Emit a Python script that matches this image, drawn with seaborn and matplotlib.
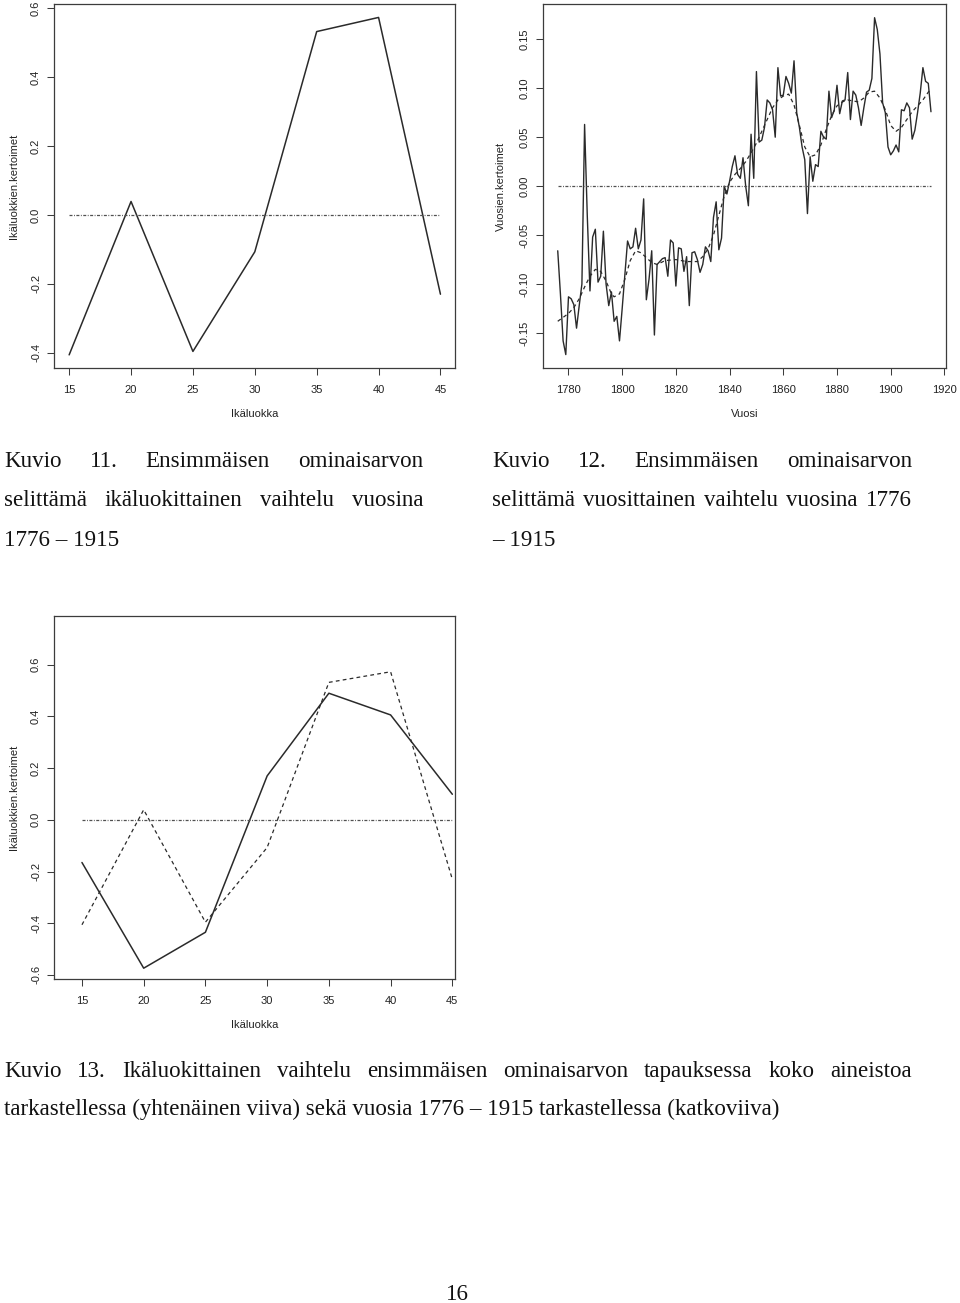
import numpy as np
import pandas as pd
import matplotlib
matplotlib.use("Agg")
import matplotlib.pyplot as plt
import matplotlib.transforms as mtransforms
import seaborn as sns

# ---------------- data ----------------
age_classes = [15, 20, 25, 30, 35, 40, 45]
age_coef_1776_1915 = [-0.406, 0.039, -0.396, -0.107, 0.532, 0.573, -0.230]
age_coef_all = [-0.165, -0.574, -0.435, 0.170, 0.490, 0.406, 0.099]

years = list(range(1776, 1916))
year_coef = [
    -0.066, -0.110, -0.158, -0.172, -0.113, -0.115, -0.121, -0.145, -0.122, -0.100,  # 1776-1785
    0.063, -0.030, -0.107, -0.052, -0.044, -0.098, -0.092, -0.046, -0.100, -0.122,   # 1786-1795
    -0.108, -0.138, -0.133, -0.158, -0.125, -0.090, -0.056, -0.064, -0.062, -0.043,  # 1796-1805
    -0.064, -0.055, -0.013, -0.116, -0.095, -0.066, -0.152, -0.080, -0.077, -0.074,  # 1806-1815
    -0.073, -0.092, -0.055, -0.058, -0.102, -0.063, -0.064, -0.087, -0.072, -0.122,  # 1816-1825
    -0.068, -0.067, -0.075, -0.088, -0.080, -0.062, -0.066, -0.077, -0.032, -0.016,  # 1826-1835
    -0.065, -0.053, 0.000, -0.008, 0.005, 0.020, 0.031, 0.012, 0.008, 0.029,         # 1836-1845
    0.000, -0.020, 0.053, 0.008, 0.117, 0.045, 0.047, 0.060, 0.088, 0.085,           # 1846-1855
    0.078, 0.050, 0.121, 0.092, 0.093, 0.112, 0.105, 0.095, 0.128, 0.075,            # 1856-1865
    0.060, 0.040, 0.027, -0.028, 0.030, 0.005, 0.022, 0.020, 0.056, 0.050,           # 1866-1875
    0.048, 0.097, 0.070, 0.078, 0.103, 0.074, 0.087, 0.088, 0.116, 0.068,            # 1876-1885
    0.097, 0.093, 0.080, 0.062, 0.080, 0.096, 0.098, 0.110, 0.172, 0.160,            # 1886-1895
    0.135, 0.085, 0.075, 0.040, 0.032, 0.036, 0.042, 0.035, 0.078, 0.077,            # 1896-1905
    0.085, 0.080, 0.048, 0.057, 0.075, 0.095, 0.121, 0.107, 0.105, 0.076,            # 1906-1915
]

smooth_years = [1776, 1778, 1780, 1782, 1784, 1786, 1788, 1790, 1792, 1794, 1796, 1797,
                1799, 1801, 1803, 1805, 1807, 1809, 1811, 1813, 1816, 1820, 1824, 1828,
                1830, 1832, 1834, 1836, 1838, 1840, 1842, 1844, 1846, 1848, 1850, 1852,
                1854, 1856, 1858, 1860, 1862, 1864, 1866, 1868, 1870, 1872, 1874, 1876,
                1878, 1880, 1882, 1884, 1886, 1888, 1890, 1892, 1894, 1896, 1898, 1900,
                1902, 1904, 1906, 1908, 1910, 1912, 1914, 1915]
smooth_coef = [-0.138, -0.134, -0.130, -0.124, -0.115, -0.103, -0.092, -0.085, -0.087, -0.097,
               -0.110, -0.113, -0.110, -0.095, -0.076, -0.066, -0.068, -0.073, -0.078, -0.080,
               -0.076, -0.075, -0.077, -0.077, -0.072, -0.064, -0.050, -0.030, -0.010, 0.004,
               0.012, 0.018, 0.025, 0.034, 0.044, 0.056, 0.068, 0.080, 0.088, 0.092,
               0.094, 0.083, 0.062, 0.040, 0.030, 0.032, 0.042, 0.058, 0.072, 0.082,
               0.086, 0.088, 0.087, 0.086, 0.090, 0.096, 0.097, 0.090, 0.078, 0.062,
               0.056, 0.060, 0.068, 0.076, 0.082, 0.088, 0.096, 0.099]

age_ticks = [15, 20, 25, 30, 35, 40, 45]
ax1_yticks = [-0.4, -0.2, 0.0, 0.2, 0.4, 0.6]
ax3_yticks = [-0.6, -0.4, -0.2, 0.0, 0.2, 0.4, 0.6]
year_ticks = [1780, 1800, 1820, 1840, 1860, 1880, 1900, 1920]
year_yticks = [-0.15, -0.10, -0.05, 0.00, 0.05, 0.10, 0.15]

caption11 = [["Kuvio", "11.", "Ensimmäisen", "ominaisarvon"],
             ["selittämä", "ikäluokittainen", "vaihtelu", "vuosina"],
             ["1776 – 1915"]]
caption12 = [["Kuvio", "12.", "Ensimmäisen", "ominaisarvon"],
             ["selittämä", "vuosittainen", "vaihtelu", "vuosina", "1776"],
             ["– 1915"]]
caption13 = [["Kuvio", "13.", "Ikäluokittainen", "vaihtelu", "ensimmäisen", "ominaisarvon",
              "tapauksessa", "koko", "aineistoa"],
             ["tarkastellessa (yhtenäinen viiva) sekä vuosia 1776 – 1915 tarkastellessa (katkoviiva)"]]
page_number = "16"

# ---------------- style ----------------
sns.set_style("ticks")
plt.rcParams["font.family"] = ["Liberation Sans", "DejaVu Sans"]

W, H, DPI = 960, 1303, 100
fig = plt.figure(figsize=(W / DPI, H / DPI), dpi=DPI)
fig.patch.set_facecolor("white")

LINE = "#2a2a2a"
SPINE = "#3c3c3c"
ZERO = "#505050"
DASHDOT = (0, (2.4, 1.2, 0.7, 1.2))
DASHED = (0, (3.0, 2.6))


def px_axes(left, right, top, bottom):
    return fig.add_axes([left / W, 1 - bottom / H, (right - left) / W, (bottom - top) / H])


def style_axes(ax, xlabel, ylabel, xlab_off, ylab_off):
    for s in ax.spines.values():
        s.set_visible(True)
        s.set_color(SPINE)
        s.set_linewidth(0.9)
    ax.tick_params(axis="both", direction="out", length=5, width=0.75, colors=SPINE,
                   labelsize=8, labelcolor="#222222")
    ax.tick_params(axis="x", pad=7)
    ax.tick_params(axis="y", pad=4.5, labelrotation=90)
    for lab in ax.get_yticklabels():
        lab.set_va("center")
    ax.set_xlabel(xlabel, fontsize=8, color="#222222")
    ax.set_ylabel(ylabel, fontsize=8, color="#222222")
    ax.xaxis.set_label_coords(0.5, xlab_off)
    ax.xaxis.label.set_va("center")
    ax.yaxis.set_label_coords(ylab_off, 0.5)
    ax.yaxis.label.set_va("center")
    ax.grid(False)


# ---------------- plot 1 ----------------
ax1 = px_axes(54.3, 455.3, 4, 368.3)
sns.lineplot(x=age_classes, y=age_coef_1776_1915, ax=ax1, color=LINE, lw=1.1)
sns.lineplot(x=[age_classes[0], age_classes[-1]], y=[0, 0], ax=ax1, color=ZERO, lw=0.9,
             linestyle=DASHDOT)
ax1.set_xlim(13.8, 46.2)
ax1.set_ylim(-0.445, 0.612)
ax1.set_xticks(age_ticks)
ax1.set_yticks(ax1_yticks)
ax1.set_xticklabels([str(v) for v in age_ticks])
ax1.set_yticklabels([f"{v:.1f}" for v in ax1_yticks])
style_axes(ax1, "Ikäluokka", "Ikäluokkien.kertoimet", -45.7 / 364.3, -40.3 / 401)

# ---------------- plot 2 ----------------
ax2 = px_axes(542.7, 946, 4, 368.3)
sns.lineplot(x=years, y=year_coef, ax=ax2, color=LINE, lw=1.0)
sns.lineplot(x=smooth_years, y=smooth_coef, ax=ax2, color=LINE, lw=0.9, linestyle=DASHED)
sns.lineplot(x=[years[0], years[-1]], y=[0, 0], ax=ax2, color=ZERO, lw=0.9, linestyle=DASHDOT)
ax2.set_xlim(1770.4, 1920.6)
ax2.set_ylim(-0.186, 0.186)
ax2.set_xticks(year_ticks)
ax2.set_yticks(year_yticks)
ax2.set_xticklabels([str(v) for v in year_ticks])
ax2.set_yticklabels([f"{v:.2f}" for v in year_yticks])
style_axes(ax2, "Vuosi", "Vuosien.kertoimet", -45.7 / 364.3, -42 / 403.3)

# ---------------- plot 3 ----------------
ax3 = px_axes(54.3, 455.3, 615.7, 979.3)
sns.lineplot(x=age_classes, y=age_coef_all, ax=ax3, color=LINE, lw=1.1)
sns.lineplot(x=age_classes, y=age_coef_1776_1915, ax=ax3, color=LINE, lw=0.9, linestyle=DASHED)
sns.lineplot(x=[age_classes[0], age_classes[-1]], y=[0, 0], ax=ax3, color=ZERO, lw=0.9,
             linestyle=DASHDOT)
ax3.set_xlim(12.76, 45.24)
ax3.set_ylim(-0.617, 0.79)
ax3.set_xticks(age_ticks)
ax3.set_yticks(ax3_yticks)
ax3.set_xticklabels([str(v) for v in age_ticks])
ax3.set_yticklabels([f"{v:.1f}" for v in ax3_yticks])
style_axes(ax3, "Ikäluokka", "Ikäluokkien.kertoimet", -45.7 / 363.6, -40.3 / 401)

for ax in (ax1, ax2, ax3):
    leg = ax.get_legend()
    if leg:
        leg.remove()

# ---------------- captions ----------------
SERIF = ["Liberation Serif", "DejaVu Serif"]
ident = mtransforms.IdentityTransform()
renderer = fig.canvas.get_renderer()

probe = fig.text(0, 0, caption13[1][0], fontsize=10, family=SERIF, transform=ident)
w10 = probe.get_window_extent(renderer).width
probe.remove()
FS = 10 * 779 / w10


def text_line(words, x0, x1, ybase, justify):
    yb = H - ybase
    objs = [fig.text(0, yb, w, fontsize=FS, family=SERIF, va="baseline", ha="left",
                     transform=ident, color="#111111") for w in words]
    widths = [o.get_window_extent(renderer).width for o in objs]
    if justify and len(words) > 1:
        gap = (x1 - x0 - sum(widths)) / (len(words) - 1)
    else:
        sp = fig.text(0, 0, "a a", fontsize=FS, family=SERIF, transform=ident)
        sp2 = fig.text(0, 0, "aa", fontsize=FS, family=SERIF, transform=ident)
        gap = sp.get_window_extent(renderer).width - sp2.get_window_extent(renderer).width
        sp.remove()
        sp2.remove()
    x = x0
    for o, w in zip(objs, widths):
        o.set_position((x, yb))
        x += w + gap


base11 = [466.7, 506.0, 545.5]
for i, line in enumerate(caption11):
    text_line(line, 4, 423, base11[i], justify=(i < len(caption11) - 1))
for i, line in enumerate(caption12):
    text_line(line, 492, 912, base11[i], justify=(i < len(caption12) - 1))
base13 = [1076.7, 1115.5]
for i, line in enumerate(caption13):
    text_line(line, 4, 912, base13[i], justify=(i < len(caption13) - 1))

fig.text(457, H - 1300, page_number, fontsize=FS, family=SERIF, va="baseline", ha="center",
         transform=ident, color="#111111")

fig.savefig("out.png", dpi=DPI, facecolor="white")
